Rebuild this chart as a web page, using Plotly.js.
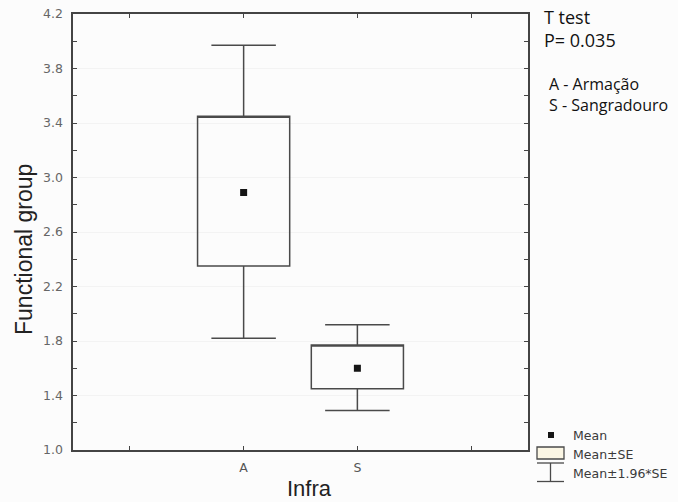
<!DOCTYPE html>
<html>
<head>
<meta charset="utf-8">
<script src="https://cdn.plot.ly/plotly-3.0.1.min.js"></script>
<style>html,body{margin:0;padding:0;background:#fcfcfc;}#chart{width:678px;height:502px;}</style>
</head>
<body>
<div id="chart"></div>
<script>
// ---- data ----
const categories = ['A', 'S'];
const xPositions = [1, 2];
const means = [2.89, 1.60];
const seLow = [2.35, 1.45];     // Mean - SE
const seHigh = [3.45, 1.77];    // Mean + SE
const ciLow = [1.82, 1.29];     // Mean - 1.96*SE
const ciHigh = [3.97, 1.92];    // Mean + 1.96*SE
const yTickVals = [1.0, 1.4, 1.8, 2.2, 2.6, 3.0, 3.4, 3.8, 4.2];
const xTickVals = [0, 1, 2, 3];
const xTickText = ['', categories[0], categories[1], ''];

// plot area in pixels (for placing legend/labels in paper coords)
const L = 73, R = 528, T = 14, B = 450;
const W = 678, H = 502;
const px = x => (x - L) / (R - L);
const py = y => (B - y) / (B - T);

const lineCol = '#4a4a4a';

const boxTrace = {
  type: 'box',
  x: xPositions,
  q1: seLow,
  median: seHigh,
  q3: seHigh,
  lowerfence: ciLow,
  upperfence: ciHigh,
  width: 0.81,
  whiskerwidth: 0.7,
  boxpoints: false,
  fillcolor: 'rgba(255,255,255,0)',
  line: {color: lineCol, width: 1.5},
  hoverinfo: 'skip',
  showlegend: false
};

const meanTrace = {
  type: 'scatter',
  mode: 'markers',
  x: xPositions,
  y: means,
  marker: {symbol: 'square', size: 7, color: '#151515'},
  showlegend: false,
  hoverinfo: 'skip'
};

const shapes = [
  // legend: mean marker
  {type: 'rect', xref: 'paper', yref: 'paper', x0: px(548), x1: px(554), y0: py(438), y1: py(432), fillcolor: '#151515', line: {width: 0}},
  // legend: box icon
  {type: 'rect', xref: 'paper', yref: 'paper', x0: px(537), x1: px(564), y0: py(459), y1: py(447), fillcolor: '#fbf6e4', line: {color: lineCol, width: 1.3}},
  // legend: whisker icon
  {type: 'line', xref: 'paper', yref: 'paper', x0: px(537), x1: px(564), y0: py(463), y1: py(463), line: {color: lineCol, width: 1.3}},
  {type: 'line', xref: 'paper', yref: 'paper', x0: px(550.5), x1: px(550.5), y0: py(463), y1: py(481.5), line: {color: lineCol, width: 1.3}},
  {type: 'line', xref: 'paper', yref: 'paper', x0: px(537), x1: px(564), y0: py(481.5), y1: py(481.5), line: {color: lineCol, width: 1.3}}
];

const legFont = {family: 'DejaVu Sans, sans-serif', size: 12.5, color: '#3a3a3a'};
const noteFont = {family: 'Open Sans, sans-serif', size: 18, color: '#111'};
const noteFont2 = {family: 'Open Sans, sans-serif', size: 16, color: '#111'};

const ann = (text, x, y, font, xanchor, yanchor, extra) => Object.assign({
  text, xref: 'paper', yref: 'paper', x: px(x), y: py(y), showarrow: false,
  xanchor: xanchor || 'left', yanchor: yanchor || 'middle', font
}, extra || {});

const annotations = [
  ann('Mean', 571, 435, legFont),
  ann('Mean±SE', 571, 454, legFont),
  ann('Mean±1.96*SE', 571, 473, legFont),
  ann('T test<br>P= 0.035', 542, 28, noteFont, 'left', 'middle', {align: 'left'}),
  ann('A - Armação<br>S - Sangradouro', 547, 94, noteFont2, 'left', 'middle', {align: 'left'}),
  ann('Functional group', 24, 250, {family: 'Liberation Sans, Arial, sans-serif', size: 23, color: '#222'}, 'center', 'middle', {textangle: -90}),
  ann('Infra', 309, 488, {family: 'Liberation Sans, Arial, sans-serif', size: 22, color: '#222'}, 'center', 'middle')
];

const layout = {
  width: W, height: H,
  margin: {l: L, r: W - R, t: T, b: H - B, pad: 0},
  paper_bgcolor: '#fcfcfc',
  plot_bgcolor: '#fcfcfc',
  showlegend: false,
  xaxis: {
    range: [-0.5, 3.5],
    tickvals: xTickVals,
    ticktext: xTickText,
    ticks: 'inside', ticklen: 4, tickwidth: 1, tickcolor: '#444',
    showline: true, linecolor: '#444', linewidth: 1.6, mirror: 'ticks',
    showgrid: false, zeroline: false,
    ticklabelstandoff: 5,
    tickfont: {family: 'DejaVu Sans, sans-serif', size: 12.5, color: '#555'}
  },
  yaxis: {
    range: [1.0, 4.2],
    tickvals: yTickVals,
    tickformat: '.1f',
    ticks: 'inside', ticklen: 4, tickwidth: 1, tickcolor: '#444',
    minor: {dtick: 0.2, tick0: 1.0, ticks: 'inside', ticklen: 4, tickcolor: '#444', showgrid: false},
    showline: true, linecolor: '#444', linewidth: 1.6, mirror: 'ticks',
    showgrid: true, gridcolor: '#f3f3f3', gridwidth: 1, zeroline: false,
    ticklabelstandoff: 6,
    tickfont: {family: 'DejaVu Sans, sans-serif', size: 12.5, color: '#666'}
  },
  shapes,
  annotations
};

Plotly.newPlot('chart', [boxTrace, meanTrace], layout, {staticPlot: true, displayModeBar: false});
</script>
</body>
</html>
